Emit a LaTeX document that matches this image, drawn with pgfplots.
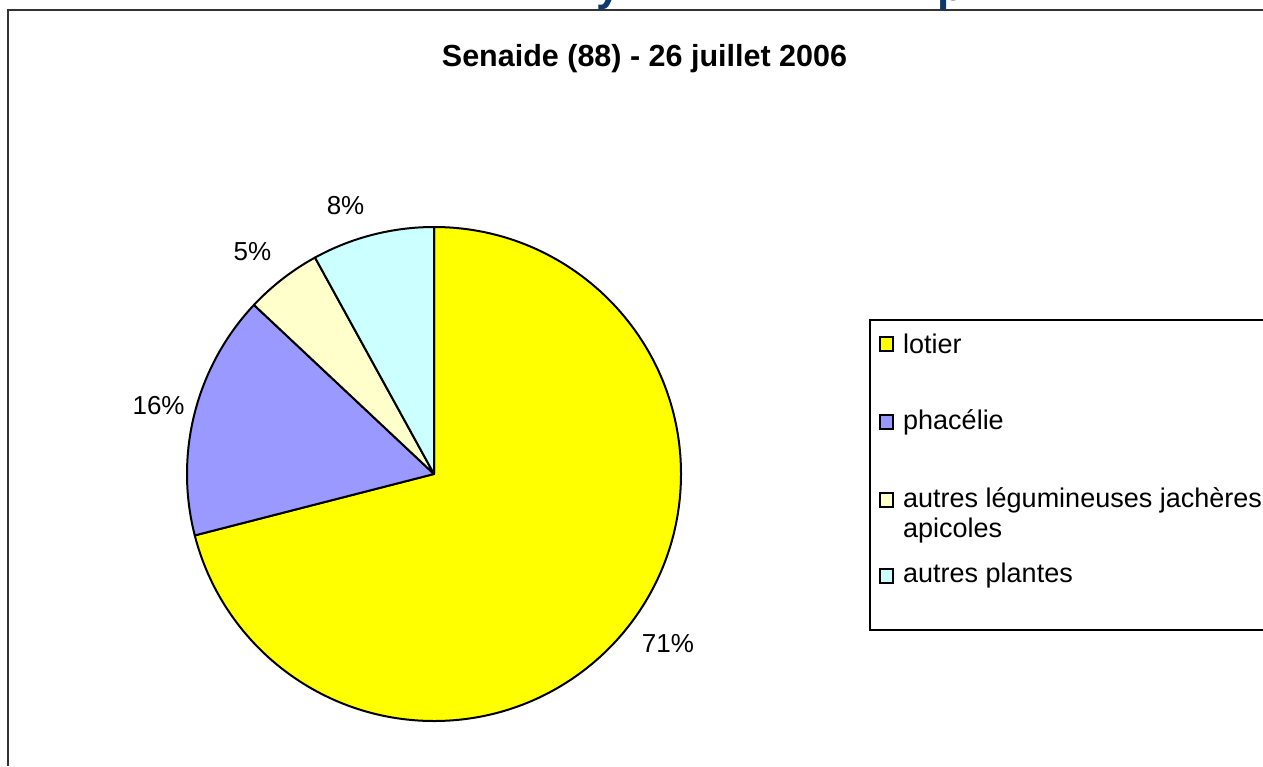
\documentclass[border=0pt]{standalone}
\usepackage{pgfplots}
\pgfplotsset{compat=1.18}
\usepackage{pgfplotstable}
\usepackage{fontspec}
\setmainfont{Liberation Sans}
\definecolor{cLotier}{RGB}{255,255,0}
\definecolor{cPhac}{RGB}{153,153,255}
\definecolor{cLeg}{RGB}{255,255,204}
\definecolor{cAutres}{RGB}{204,255,255}
\definecolor{navy}{RGB}{11,58,110}
\definecolor{frame}{RGB}{51,51,51}

% value, and label position (axis units, pie radius = 1)
\pgfplotstableread{
label value lx ly
lotier 71 0.947 -0.686
phacelie 16 -1.115 0.279
legumineuses 5 -0.735 0.901
autres 8 -0.358 1.085
}\piedata
\pgfplotstablegetelem{0}{value}\of\piedata \let\vA\pgfplotsretval
\pgfplotstablegetelem{1}{value}\of\piedata \let\vB\pgfplotsretval
\pgfplotstablegetelem{2}{value}\of\piedata \let\vC\pgfplotsretval
\pgfplotstablegetelem{3}{value}\of\piedata \let\vD\pgfplotsretval
\pgfplotstablegetelem{0}{lx}\of\piedata \let\xA\pgfplotsretval
\pgfplotstablegetelem{1}{lx}\of\piedata \let\xB\pgfplotsretval
\pgfplotstablegetelem{2}{lx}\of\piedata \let\xC\pgfplotsretval
\pgfplotstablegetelem{3}{lx}\of\piedata \let\xD\pgfplotsretval
\pgfplotstablegetelem{0}{ly}\of\piedata \let\yA\pgfplotsretval
\pgfplotstablegetelem{1}{ly}\of\piedata \let\yB\pgfplotsretval
\pgfplotstablegetelem{2}{ly}\of\piedata \let\yC\pgfplotsretval
\pgfplotstablegetelem{3}{ly}\of\piedata \let\yD\pgfplotsretval
\pgfmathsetmacro{\aA}{90}
\pgfmathsetmacro{\aB}{\aA-3.6*\vA}
\pgfmathsetmacro{\aC}{\aB-3.6*\vB}
\pgfmathsetmacro{\aD}{\aC-3.6*\vC}
\pgfmathsetmacro{\aE}{\aD-3.6*\vD}

\begin{document}%
\begin{tikzpicture}[x=1pt,y=1pt]
\useasboundingbox (0,0) rectangle (1263,-766);
% cut-off slide title fragments
\begin{scope}
\clip (0,0) rectangle (1263,-10);
\node[anchor=base west, inner sep=0, text=navy, font=\bfseries\fontsize{44}{50}\selectfont] at (596,0) {y};
\node[anchor=base west, inner sep=0, text=navy, font=\bfseries\fontsize{44}{50}\selectfont] at (937,0) {p};
\end{scope}
% chart area frame
\draw[line width=1.5pt, frame] (8,-766) -- (8,-10) -- (1263,-10);
% title
\node[anchor=base, inner sep=0, font=\bfseries\fontsize{30.5}{36}\selectfont] at (644.5,-66) {Senaide (88) - 26 juillet 2006};
\begin{axis}[at={(434pt,-474pt)}, anchor=center, scale only axis,
  x=247pt, y=247pt, xmin=-1, xmax=1, ymin=-1, ymax=1,
  hide axis, clip=false]
\draw[line width=2pt, line join=round, fill=cLotier] (axis cs:0,0) -- (axis cs:{cos(\aA)},{sin(\aA)}) arc[start angle=\aA, end angle=\aB, radius=247pt] -- cycle;
\draw[line width=2pt, line join=round, fill=cPhac] (axis cs:0,0) -- (axis cs:{cos(\aB)},{sin(\aB)}) arc[start angle=\aB, end angle=\aC, radius=247pt] -- cycle;
\draw[line width=2pt, line join=round, fill=cLeg] (axis cs:0,0) -- (axis cs:{cos(\aC)},{sin(\aC)}) arc[start angle=\aC, end angle=\aD, radius=247pt] -- cycle;
\draw[line width=2pt, line join=round, fill=cAutres] (axis cs:0,0) -- (axis cs:{cos(\aD)},{sin(\aD)}) arc[start angle=\aD, end angle=\aE, radius=247pt] -- cycle;
\node[inner sep=0, font=\fontsize{26}{31}\selectfont] at (axis cs:\xA,\yA) {\vA\%};
\node[inner sep=0, font=\fontsize{26}{31}\selectfont] at (axis cs:\xB,\yB) {\vB\%};
\node[inner sep=0, font=\fontsize{26}{31}\selectfont] at (axis cs:\xC,\yC) {\vC\%};
\node[inner sep=0, font=\fontsize{26}{31}\selectfont] at (axis cs:\xD,\yD) {\vD\%};
\end{axis}
% legend
\draw[line width=1.5pt, black] (1263,-320) -- (870,-320) -- (870,-630) -- (1263,-630);
\begin{scope}[every node/.style={anchor=west, inner sep=0, font=\fontsize{27}{32}\selectfont}]
\draw[line width=1.5pt, fill=cLotier] (880,-337) rectangle (893,-351);
\node at (903,-344) {lotier};
\draw[line width=1.5pt, fill=cPhac] (880,-415) rectangle (893,-429);
\node at (903,-422) {phacélie};
\draw[line width=1.5pt, fill=cLeg] (880,-493) rectangle (893,-507);
\node at (903,-500) {autres légumineuses jachères};
\node at (903,-531) {apicoles};
\draw[line width=1.5pt, fill=cAutres] (880,-569) rectangle (893,-583);
\node at (903,-576) {autres plantes};
\end{scope}
\end{tikzpicture}%
\end{document}
